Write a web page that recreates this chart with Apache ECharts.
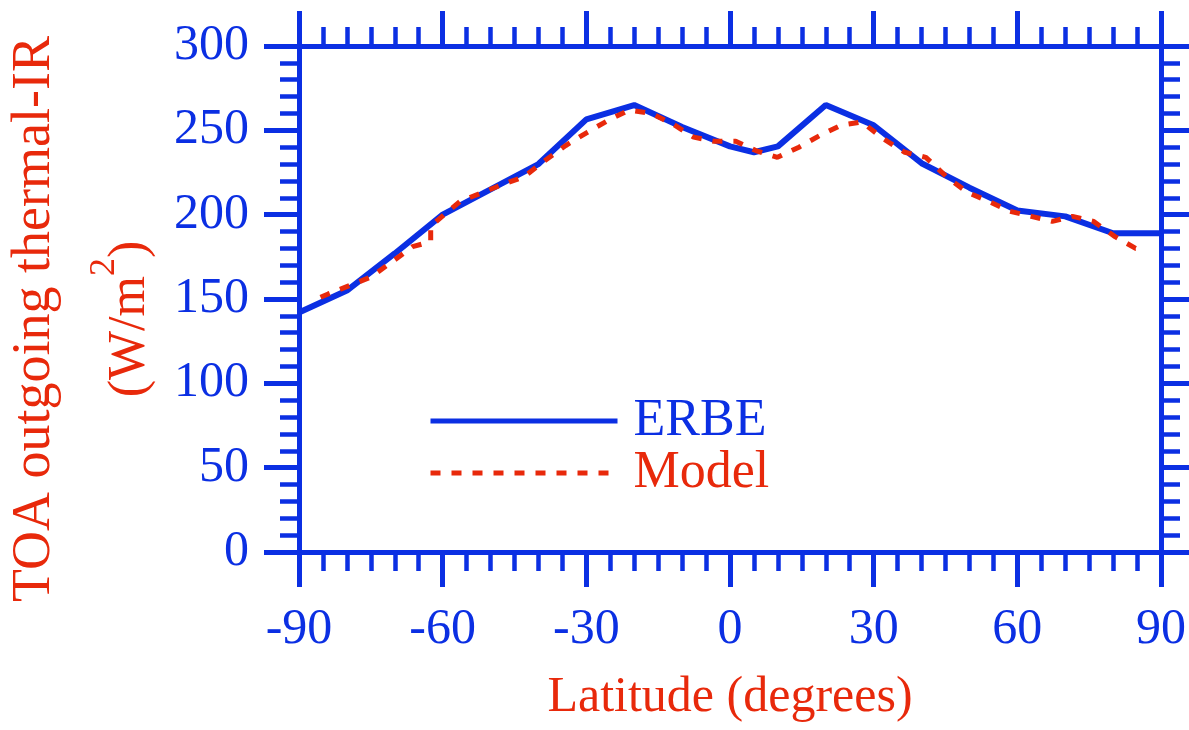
<!DOCTYPE html>
<html>
<head>
<meta charset="utf-8">
<script src="https://cdn.jsdelivr.net/npm/echarts@6/dist/echarts.min.js"></script>
<style>
html, body { margin: 0; padding: 0; background: #fff; }
#olr-chart { width: 1189px; height: 730px; }
</style>
</head>
<body>
<div id="olr-chart"></div>
<script>
// latitude / flux pairs
var erbeLat = [-90, -80, -70, -60, -50, -40, -30, -20, -10, 0, 5, 10, 20, 30, 40, 50, 60, 70, 80, 90];
var erbeVal = [142, 155, 177, 200, 215, 230, 256.5, 265, 252, 240.5, 237, 240.5, 265, 253, 230.5, 216, 202.5, 199, 189, 189];

var modelLat = [-85.5, -83.9, -79.4, -75, -70.6, -66.3, -62.5, -62.5, -59.7, -56.3, -51.8, -47.4, -43, -38.7, -34.3, -29.7, -25.4, -21.1, -16.4, -12.1, -7.6, -3.3, 1.2, 5.4, 9.9, 14.4, 18.8, 23.2, 27.5, 32, 36.5, 40.9, 45.2, 49.7, 54, 58.4, 62.9, 67.3, 71.5, 75.9, 80.4, 84.7, 86.5];
var modelVal = [151, 153, 158, 163, 172, 181, 184, 193, 200, 208, 213, 218, 222.5, 232, 241, 249, 256, 262, 260, 254, 246, 243.5, 243.5, 238, 234, 240, 247, 253, 255, 245, 237, 234, 222.5, 213, 208, 202, 199, 196, 199, 196, 187, 180, 180];

var latTicks = { min: -90, max: 90, interval: 30 };
var fluxTicks = { min: 0, max: 300, interval: 50 };

var BLUE = '#0b2fe3';
var RED = '#e8290b';
var FONT = '"Liberation Serif", "Times New Roman", serif';

function pairs(xs, ys) {
  var out = [];
  for (var i = 0; i < xs.length; ++i) out.push([xs[i], ys[i]]);
  return out;
}

function frameAxis(pos, ticks, minorSplit, showLabel) {
  return {
    type: 'value',
    position: pos,
    min: ticks.min,
    max: ticks.max,
    interval: ticks.interval,
    axisLine: { show: true, onZero: false, lineStyle: { color: BLUE, width: 5 } },
    axisTick: { show: true, inside: false, length: 35, lineStyle: { color: BLUE, width: 5 } },
    minorTick: { show: true, splitNumber: minorSplit, length: 19, lineStyle: { color: BLUE, width: 4.5 } },
    splitLine: { show: false },
    minorSplitLine: { show: false },
    axisLabel: {
      show: showLabel,
      color: BLUE,
      fontFamily: FONT,
      fontSize: 50,
      margin: (pos == 'bottom') ? 53 : 50
    }
  };
}

var chart = echarts.init(document.getElementById('olr-chart'));

var xBottom = frameAxis('bottom', latTicks, 6, true);
xBottom.name = 'Latitude (degrees)';
xBottom.nameLocation = 'middle';
xBottom.nameGap = 121;
xBottom.nameTextStyle = { color: RED, fontFamily: FONT, fontSize: 50 };

var yLeft = frameAxis('left', fluxTicks, 5, true);
yLeft.name = '{a|TOA outgoing thermal-IR}\n{b|(W/m}{s|2}{b|)}';
yLeft.nameLocation = 'middle';
yLeft.nameGap = 126;
yLeft.nameTextStyle = {
  color: RED,
  fontFamily: FONT,
  padding: [0, 40, 0, 0],
  rich: {
    a: { color: RED, fontFamily: FONT, fontSize: 54, lineHeight: 104 },
    b: { color: RED, fontFamily: FONT, fontSize: 52, lineHeight: 86 },
    s: { color: RED, fontFamily: FONT, fontSize: 36, lineHeight: 36, verticalAlign: 'top' }
  }
};

var option = {
  animation: false,
  backgroundColor: '#ffffff',
  grid: { left: 297, right: 22, top: 46, bottom: 178, containLabel: false },
  legend: {
    orient: 'vertical',
    left: 423,
    top: 390,
    itemWidth: 187,
    itemHeight: 4,
    itemGap: 0,
    selectedMode: false,
    itemStyle: { opacity: 0 },
    lineStyle: { width: 5 },
    textStyle: { fontFamily: FONT, fontSize: 52, lineHeight: 52, padding: [0, 0, 0, 11] },
    data: [
      { name: 'ERBE', textStyle: { color: BLUE } },
      { name: 'Model', textStyle: { color: RED } }
    ]
  },
  xAxis: [xBottom, frameAxis('top', latTicks, 6, false)],
  yAxis: [yLeft, frameAxis('right', fluxTicks, 5, false)],
  series: [
    {
      name: 'ERBE',
      type: 'line',
      xAxisIndex: 0,
      yAxisIndex: 0,
      symbol: 'none',
      color: BLUE,
      lineStyle: { color: BLUE, width: 6 },
      data: pairs(erbeLat, erbeVal)
    },
    {
      name: 'Model',
      type: 'line',
      xAxisIndex: 0,
      yAxisIndex: 0,
      symbol: 'none',
      color: RED,
      lineStyle: { color: RED, width: 5, type: [10, 11] },
      data: pairs(modelLat, modelVal)
    }
  ]
};

chart.setOption(option);
</script>
</body>
</html>
